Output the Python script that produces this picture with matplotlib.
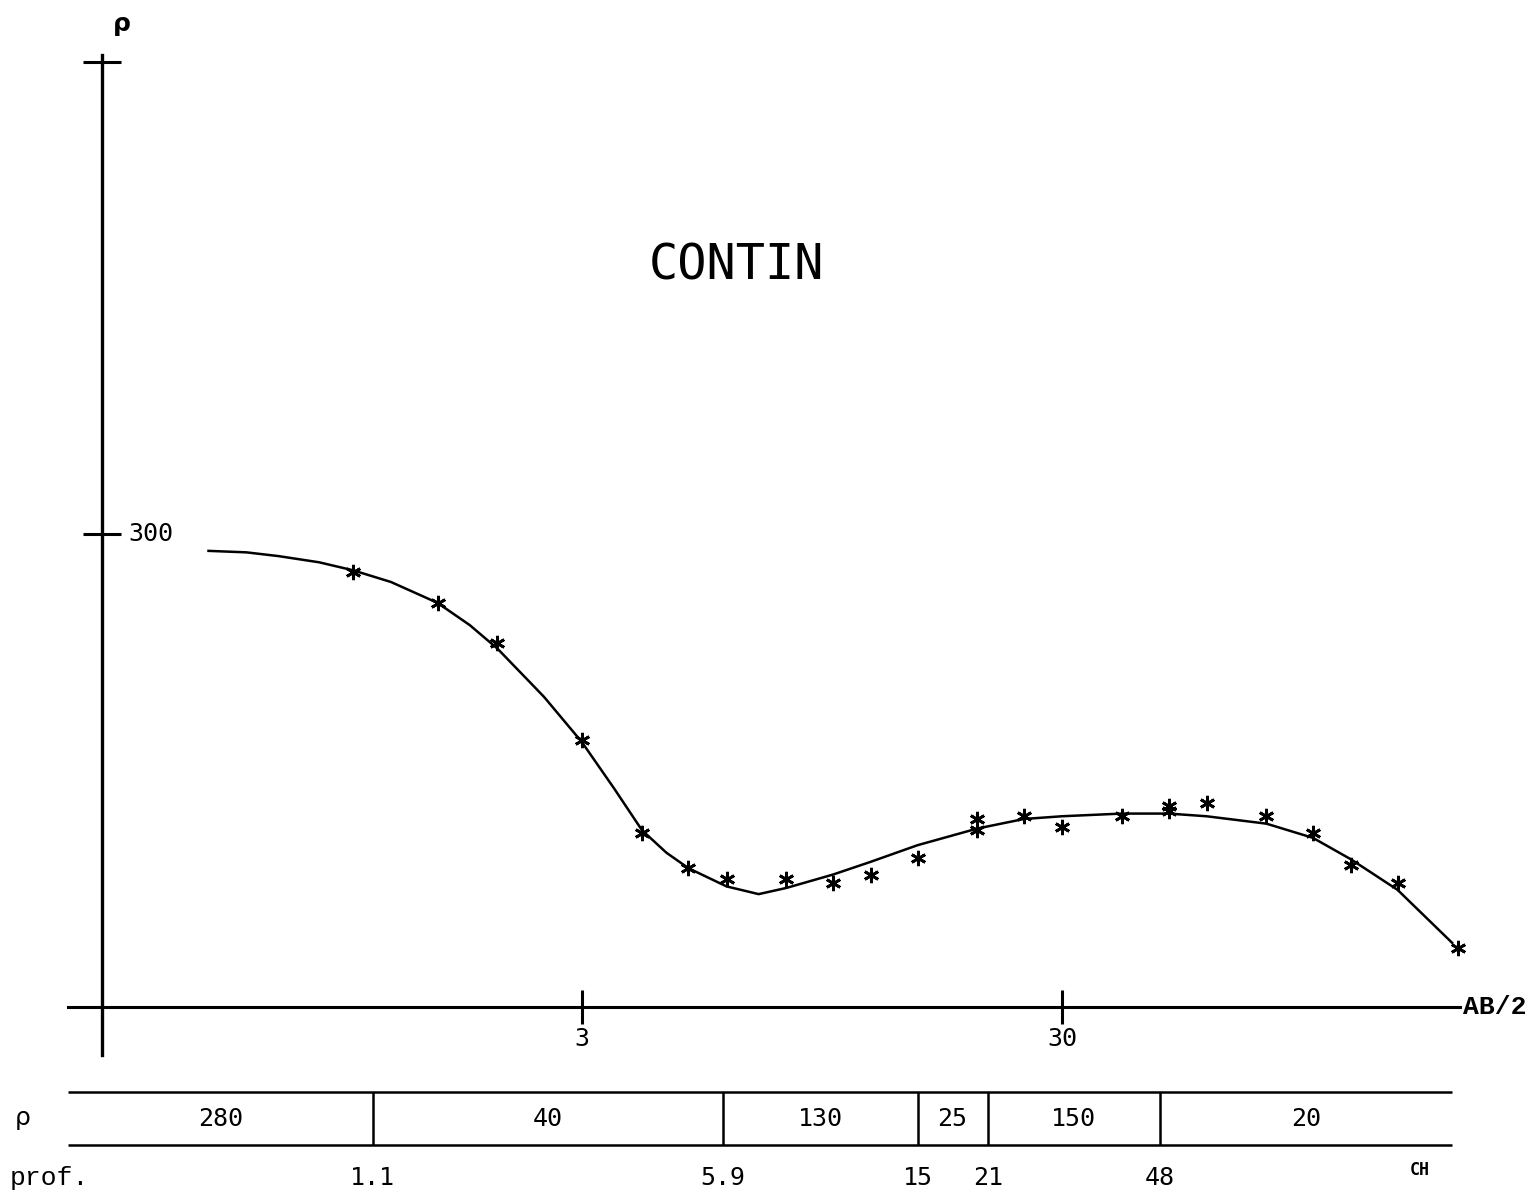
import numpy as np
import matplotlib
matplotlib.use('Agg')
import matplotlib.pyplot as plt
import matplotlib.transforms as mtransforms

# Sondaggio elettrico verticale: misure di campagna (AB/2, rho apparente)
ab2 = [1, 1.5, 2, 3, 4, 5, 6, 8, 10, 12, 15, 20, 20, 25, 30, 40, 50, 50, 60, 80, 100, 120, 150, 200]
rho_app = [250, 215, 177, 110, 70, 59, 56, 56, 55, 57, 62, 75, 71, 76, 72, 76, 80, 78, 81, 76, 70, 60, 55, 40]

# Curva interpretativa
curve_ab2 = [0.5, 0.6, 0.7, 0.85, 1.0, 1.2, 1.5, 1.75, 2.0, 2.5, 3.0, 3.5, 4.0, 4.5, 5.0, 6.0, 7.0, 8.0,
             10, 12, 15, 20, 25, 30, 40, 50, 60, 80, 100, 120, 150, 195]
curve_rho = [277, 275, 270, 262, 252, 238, 215, 193, 172, 136, 109, 87, 71, 63.6, 59, 54, 52, 53.6,
             57.2, 60.9, 66, 71.6, 75, 76, 77, 77, 76, 73.3, 68.4, 61.6, 53.1, 41]

# Modello a strati
layer_rho = [280, 40, 130, 25, 150, 20]
layer_depth = [1.1, 5.9, 15, 21, 48]
depth_labels = ['1.1', '5.9', '15', '21', '48']

xticks = [3, 30]
xtick_labels = ['3', '30']
yticks = [300, 3000]

W, H = 1532, 1193
MONO = 'DejaVu Sans Mono'
SERIF = 'Liberation Mono'

fig = plt.figure(figsize=(W / 100, H / 100), dpi=100)
fig.patch.set_facecolor('white')

# Assi principali (bilogaritmici)
ax = fig.add_axes([102 / W, 1 - 1007 / H, (1457.5 - 102) / W, (1007 - 62) / H])
ax.set_xscale('log')
ax.set_yscale('log')
ax.set_xlim(0.3, 200)
ax.set_ylim(30, 3000)
for s in ax.spines.values():
    s.set_visible(False)
ax.patch.set_alpha(0)

ax.set_xticks(xticks)
ax.set_xticklabels(xtick_labels, fontfamily=MONO, fontsize=18)
ax.set_yticks(yticks)
ax.set_yticklabels(['', ''])
ax.minorticks_off()
ax.tick_params(axis='x', direction='inout', length=25, width=2.2, pad=2)
ax.tick_params(axis='y', direction='inout', length=27, width=2.2)

# linee degli assi
ax.plot([-0.025, 1.002], [0, 0], transform=ax.transAxes, color='black', lw=2.2, clip_on=False)
ax.plot([0, 0], [-0.051, 1.007], transform=ax.transAxes, color='black', lw=2.4, clip_on=False)

ax.text(0.0192, 300, '300', transform=mtransforms.blended_transform_factory(ax.transAxes, ax.transData),
        fontfamily=MONO, fontsize=18, ha='left', va='center')
ax.text(1.004, 0, 'AB/2', transform=ax.transAxes, fontfamily=SERIF, fontsize=19,
        fontweight='bold', ha='left', va='center')

# curva e punti
ax.plot(curve_ab2, curve_rho, color='black', lw=1.8, clip_on=False)
ax.plot(ab2, rho_app, linestyle='none', marker=(6, 2, 0), markersize=11, markeredgewidth=2,
        color='black', clip_on=False)

fig.text(122 / W, 1 - 24 / H, 'ρ', fontsize=18, fontweight='bold', ha='center', va='center')
fig.text(736 / W, 1 - 265 / H, 'CONTIN', fontfamily=MONO, fontsize=35, ha='center', va='center')

# Tabella del modello a strati
ax2 = fig.add_axes([102 / W, 1 - 1145 / H, (1457.5 - 102) / W, (1145 - 1092) / H])
ax2.set_xscale('log')
ax2.set_xlim(0.3, 200)
ax2.set_ylim(0, 1)
ax2.set_axis_off()

x_left, x_right = 0.255, 195
edges = [x_left] + layer_depth + [x_right]
ax2.hlines([0, 1], x_left, x_right, color='black', lw=1.8, clip_on=False)
ax2.vlines(layer_depth, 0, 1, color='black', lw=1.8, clip_on=False)
for i, r in enumerate(layer_rho):
    xc = np.sqrt(edges[i] * edges[i + 1])
    ax2.text(xc, 0.5, str(r), fontfamily=MONO, fontsize=18, ha='center', va='center')
for d, lab in zip(layer_depth, depth_labels):
    ax2.text(d, -0.62, lab, fontfamily=MONO, fontsize=18, ha='center', va='center', clip_on=False)
ax2.text((1420 - 102) / 1355.5, -0.47, 'CH', transform=ax2.transAxes, fontfamily=MONO,
         fontsize=12, fontweight='bold', ha='center', va='center')

fig.text(15 / W, 1 - 1118 / H, 'ρ', fontsize=18, ha='left', va='center')
fig.text(10 / W, 1 - 1178 / H, 'prof.', fontfamily=SERIF, fontsize=19, ha='left', va='center')

plt.savefig('out.png', dpi=100)
plt.close()
